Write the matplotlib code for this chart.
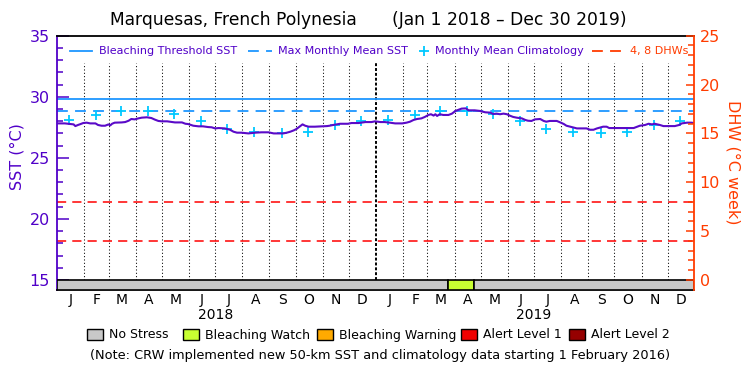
import matplotlib
matplotlib.use('Agg')
import matplotlib.pyplot as plt
from matplotlib.lines import Line2D
from matplotlib.patches import Rectangle
import pandas as pd

# ---------------- data ----------------
title_site = "Marquesas, French Polynesia"
title_range = "(Jan 1 2018 – Dec 30 2019)"

# daily SST trace (days since 2018-01-01, deg C)
sst_day = [0, 9, 15, 19, 21, 24, 26, 30, 34, 38,
           44, 47, 51, 55, 59, 61, 63, 66, 74, 78,
           82, 85, 89, 93, 97, 103, 108, 112, 116, 120,
           126, 129, 135, 143, 147, 150, 156, 162, 167, 173,
           177, 181, 185, 192, 198, 202, 206, 211, 219, 227,
           234, 242, 248, 253, 259, 263, 267, 271, 274, 278,
           281, 284, 288, 295, 303, 309, 312, 316, 320, 324,
           333, 337, 345, 353, 360, 364, 370, 375, 381, 387,
           395, 400, 404, 408, 412, 417, 421, 425, 428, 431,
           433, 435, 438, 442, 448, 452, 456, 459, 463, 468,
           471, 478, 484, 490, 496, 499, 503, 507, 511, 515,
           518, 522, 526, 532, 536, 539, 543, 547, 553, 557,
           560, 564, 572, 576, 580, 583, 589, 595, 601, 606,
           610, 614, 618, 621, 625, 629, 632, 646, 660, 663,
           667, 673, 677, 681, 684, 690, 694, 707, 712, 715,
           721, 726, 729]
sst_val = [27.82, 27.82, 27.77, 27.74, 27.60, 27.69, 27.74, 27.85, 27.88, 27.82,
           27.82, 27.69, 27.63, 27.63, 27.74, 27.66, 27.79, 27.88, 27.90, 27.93,
           28.04, 28.18, 28.15, 28.23, 28.29, 28.32, 28.26, 28.13, 28.02, 27.99,
           27.99, 27.96, 27.90, 27.90, 27.79, 27.77, 27.63, 27.58, 27.58, 27.52,
           27.50, 27.41, 27.44, 27.41, 27.30, 27.14, 27.06, 27.06, 27.00, 27.06,
           27.09, 27.09, 27.00, 27.00, 27.00, 27.06, 27.14, 27.25, 27.36, 27.58,
           27.74, 27.63, 27.55, 27.55, 27.58, 27.60, 27.63, 27.69, 27.74, 27.79,
           27.79, 27.85, 27.85, 27.93, 27.93, 27.99, 27.93, 27.93, 27.88, 27.82,
           27.82, 27.88, 27.96, 28.10, 28.18, 28.23, 28.35, 28.51, 28.57, 28.46,
           28.57, 28.43, 28.57, 28.51, 28.51, 28.62, 28.84, 28.92, 29.03, 29.05,
           28.89, 28.89, 28.84, 28.73, 28.70, 28.59, 28.62, 28.57, 28.62, 28.57,
           28.46, 28.35, 28.29, 28.23, 28.10, 28.04, 28.02, 28.15, 28.18, 28.02,
           27.96, 28.02, 28.02, 27.90, 27.77, 27.63, 27.52, 27.41, 27.41, 27.41,
           27.30, 27.30, 27.41, 27.47, 27.55, 27.55, 27.44, 27.44, 27.44, 27.52,
           27.63, 27.69, 27.79, 27.74, 27.79, 27.69, 27.60, 27.60, 27.69, 27.82,
           27.88, 27.88, 27.85]

# monthly mean climatology (Jan..Dec)
clim_vals = [28.10, 28.50, 28.80, 28.85, 28.55, 28.05, 27.40, 27.10, 27.00, 27.15, 27.70, 28.05]
mmm = 28.84
bleach_threshold = 29.84
dhw_levels = [4, 8]

# bleaching alert status periods
status_start = ['2018-01-01', '2019-03-25', '2019-04-23']
status_end = ['2019-03-25', '2019-04-23', '2019-12-31']
status_level = [0, 1, 0]
status_names = ['No Stress', 'Bleaching Watch', 'Bleaching Warning', 'Alert Level 1', 'Alert Level 2']
month_letters = ['J', 'F', 'M', 'A', 'M', 'J', 'J', 'A', 'S', 'O', 'N', 'D']
years = ['2018', '2019']
note = "(Note: CRW implemented new 50-km SST and climatology data starting 1 February 2016)"

# ---------------- style ----------------
purple = '#5000c8'
sst_col = '#5a0ac8'
blue = '#1e96ff'
cyan = '#00c8ff'
red = '#ff0000'
orange = '#ff3c00'
status_colors = ['#c8c8c8', '#c8ff32', '#ffaa00', '#f00000', '#960000']

W, H = 750, 375
start = pd.Timestamp('2018-01-01')
def dday(s):
    return (pd.Timestamp(s) - start).days

fig = plt.figure(figsize=(7.5, 3.75), dpi=100)
ybot = 14.18
ax = fig.add_axes([57 / W, 85 / H, 637 / W, (290 - 35.7) / H])
ax.set_xlim(0, 729)
ax.set_ylim(ybot, 35)

# month boundaries
mstarts = pd.date_range('2018-01-01', '2020-01-01', freq='MS')
mdays = [(d - start).days for d in mstarts]
for i, d in enumerate(mdays[1:-1], start=1):
    if i == 12:
        ax.plot([d, d], [15, 32.8], color='black', lw=1.4, ls=(0, (1.5, 1)), zorder=1)
    else:
        ax.plot([d, d], [15, 32.8], color='black', lw=0.75, ls=(0, (1, 2.2)), zorder=1)

# reference lines
ax.axhline(bleach_threshold, color=blue, lw=1.3, zorder=2)
ax.axhline(mmm, color=blue, lw=1.3, ls=(0, (6, 4)), zorder=2)
for lev in dhw_levels:
    ax.axhline(15 + lev / 1.25, color=red, lw=1.1, ls=(0, (6, 4)), zorder=2)

# climatology
clim_x = [mdays[i] + 14 for i in range(24)]
clim_y = clim_vals + clim_vals
ax.plot(clim_x, clim_y, ls='none', marker='+', ms=7, mew=1.3, color=cyan, zorder=3)

# SST
ax.plot(sst_day, sst_val, color=sst_col, lw=1.5, zorder=4)

# status bar
for s, e, lv in zip(status_start, status_end, status_level):
    ax.add_patch(Rectangle((dday(s), ybot), dday(e) - dday(s), 15 - ybot,
                           facecolor=status_colors[lv], edgecolor='black', lw=1.2, zorder=5))

# ticks
ax.set_yticks(range(15, 36, 5))
ax.set_yticks(range(15, 36), minor=True)
ax.tick_params(axis='y', which='major', direction='in', length=8.6, width=1.1,
               color=purple, labelcolor=purple, labelsize=11.5, pad=5)
ax.tick_params(axis='y', which='minor', direction='in', length=4.3, width=1.1, color=purple)
mid = [mdays[i] + (mdays[i + 1] - mdays[i]) / 2 for i in range(24)]
ax.set_xticks(mid, labels=month_letters * 2)
ax.tick_params(axis='x', length=0, labelsize=10, pad=2.5)
for i, y in enumerate(years):
    ax.text(mdays[12 * i + 6], -0.098, y, transform=ax.get_xaxis_transform(),
            ha='center', va='center', fontsize=10)

ax2 = ax.twinx()
ax2.set_ylim((ybot - 15) * 1.25, 25)
ax2.set_yticks(range(0, 26, 5))
ax2.set_yticks(range(0, 26), minor=True)
ax2.tick_params(axis='y', which='major', direction='in', length=5.5, width=1.1,
                color=orange, labelcolor=orange, labelsize=11.5, pad=4)
ax2.tick_params(axis='y', which='minor', direction='in', length=4, width=1.1, color=orange)

for a in (ax, ax2):
    for sp in a.spines.values():
        sp.set_linewidth(1.3)
ax.spines['left'].set_color(purple)
ax.spines['right'].set_visible(False)
ax2.spines['left'].set_visible(False)
ax2.spines['top'].set_visible(False)
ax2.spines['bottom'].set_visible(False)
ax2.spines['right'].set_color(orange)

# axis labels
fig.text(17 / W, 1 - 157 / H, 'SST (°C)', rotation=90, ha='center', va='center',
         color=purple, fontsize=11.5)
fig.text(733 / W, 1 - 162 / H, 'DHW (°C week)', rotation=270, ha='center', va='center',
         color=orange, fontsize=11.5)

# title
fig.text(110 / W, 1 - 20 / H, title_site, ha='left', va='center', fontsize=12.3)
fig.text(392 / W, 1 - 20 / H, title_range, ha='left', va='center', fontsize=12.3)

# top legend
ly = 1 - 51 / H
fig.add_artist(Line2D([70 / W, 92 / W], [ly, ly], color=blue, lw=1.3))
fig.text(99 / W, ly, 'Bleaching Threshold SST', color=purple, fontsize=8, va='center')
fig.add_artist(Line2D([248 / W, 272 / W], [ly, ly], color=blue, lw=1.3, ls=(0, (6, 4))))
fig.text(278 / W, ly, 'Max Monthly Mean SST', color=purple, fontsize=8, va='center')
fig.add_artist(Line2D([424 / W], [ly], color=cyan, marker='+', ms=7, mew=1.3, ls='none'))
fig.text(435 / W, ly, 'Monthly Mean Climatology', color=purple, fontsize=8, va='center')
fig.add_artist(Line2D([592 / W, 624 / W], [ly, ly], color=orange, lw=1.3, ls=(0, (6, 4))))
fig.text(630 / W, ly, '4, 8 DHWs', color=orange, fontsize=8, va='center')

# bottom legend
box_x = [87, 183, 317, 461, 569]
by = 1 - 340 / H
for bx, name, c in zip(box_x, status_names, status_colors):
    fig.add_artist(Rectangle((bx / W, by), 16 / W, 11 / H, facecolor=c, edgecolor='black',
                             lw=1, transform=fig.transFigure))
    fig.text((bx + 22) / W, 1 - 335 / H, name, fontsize=9, va='center', ha='left')

fig.text(380 / W, 1 - 355 / H, note, fontsize=9.3, ha='center', va='center')

fig.savefig('out.png', dpi=100)
